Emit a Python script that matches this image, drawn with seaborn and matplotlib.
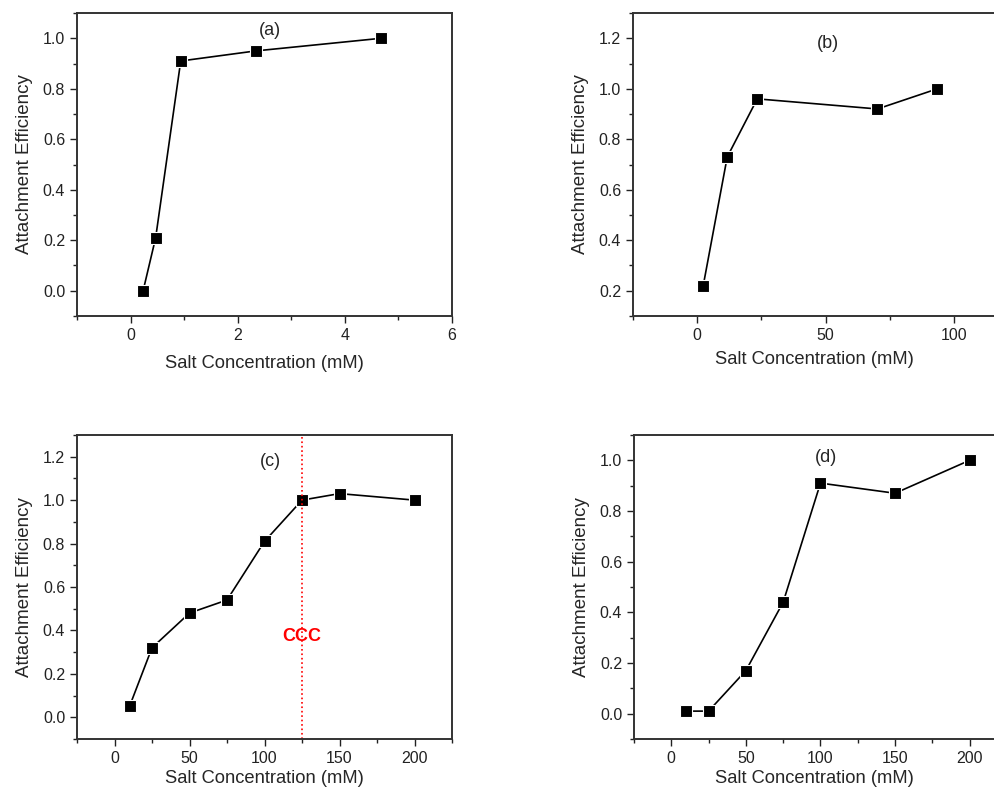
import matplotlib
matplotlib.use('Agg')
import matplotlib.pyplot as plt
from matplotlib.ticker import MultipleLocator
import seaborn as sns

sns.set_style('ticks')
plt.rcParams['font.family'] = ['Liberation Sans', 'DejaVu Sans']

# panel data
x_a = [0.234, 0.468, 0.936, 2.34, 4.68]
y_a = [0.0, 0.21, 0.91, 0.95, 1.0]

x_b = [2.34, 11.7, 23.4, 70.2, 93.6]
y_b = [0.22, 0.73, 0.96, 0.92, 1.0]

x_c = [10, 25, 50, 75, 100, 125, 150, 200]
y_c = [0.05, 0.32, 0.48, 0.54, 0.81, 1.0, 1.03, 1.0]

x_d = [10, 25, 50, 75, 100, 150, 200]
y_d = [0.01, 0.01, 0.17, 0.44, 0.91, 0.87, 1.0]

ccc = 125

fig = plt.figure(figsize=(9.95, 7.89), dpi=100)

panels = [
    # data, rect, xlim, ylim, xmajor, xminor, tag, tag pos, xlabelpad
    (x_a, y_a, [0.0774, 0.5995, 0.3769, 0.384], (-1, 6), (-0.1, 1.1), 2, 1, '(a)', (2.6, 1.03), 9),
    (x_b, y_b, [0.6362, 0.5995, 0.3638, 0.384], (-25, 116), (0.1, 1.3), 50, 25, '(b)', (51, 1.18), 6),
    (x_c, y_c, [0.0774, 0.0634, 0.3769, 0.3853], (-25, 225), (-0.1, 1.3), 50, 25, '(c)', (104, 1.18), 3),
    (x_d, y_d, [0.6372, 0.0634, 0.3628, 0.3853], (-25, 217), (-0.1, 1.1), 50, 25, '(d)', (104, 1.01), 3),
]

for xs, ys, rect, xlim, ylim, xmaj, xmin, tag, tagpos, xpad in panels:
    ax = fig.add_axes(rect)
    sns.lineplot(x=xs, y=ys, ax=ax, color='black', linewidth=1.2,
                 marker='s', markersize=8, markeredgecolor='white',
                 markeredgewidth=0.8)
    ax.set_xlim(*xlim)
    ax.set_ylim(*ylim)
    ax.xaxis.set_major_locator(MultipleLocator(xmaj))
    ax.xaxis.set_minor_locator(MultipleLocator(xmin))
    ax.yaxis.set_major_locator(MultipleLocator(0.2))
    ax.yaxis.set_minor_locator(MultipleLocator(0.1))
    ax.tick_params(which='major', direction='out', length=5, width=1,
                   labelsize=11.5, colors='#222222')
    ax.tick_params(which='minor', direction='out', length=3, width=1,
                   colors='#222222')
    for s in ax.spines.values():
        s.set_linewidth(1.4)
        s.set_color('#333333')
    ax.set_xlabel('Salt Concentration (mM)', fontsize=13.2, labelpad=xpad)
    ax.set_ylabel('Attachment Efficiency', fontsize=13.5, labelpad=7)
    ax.text(tagpos[0], tagpos[1], tag, fontsize=13, ha='center', va='center')
    if tag == '(c)':
        ax.axvline(ccc, color='red', linestyle=':', linewidth=1.2)
        ax.text(ccc, 0.37, 'CCC', color='red', fontsize=13,
                fontweight='bold', ha='center', va='center')

fig.savefig('out.png', dpi=100)
